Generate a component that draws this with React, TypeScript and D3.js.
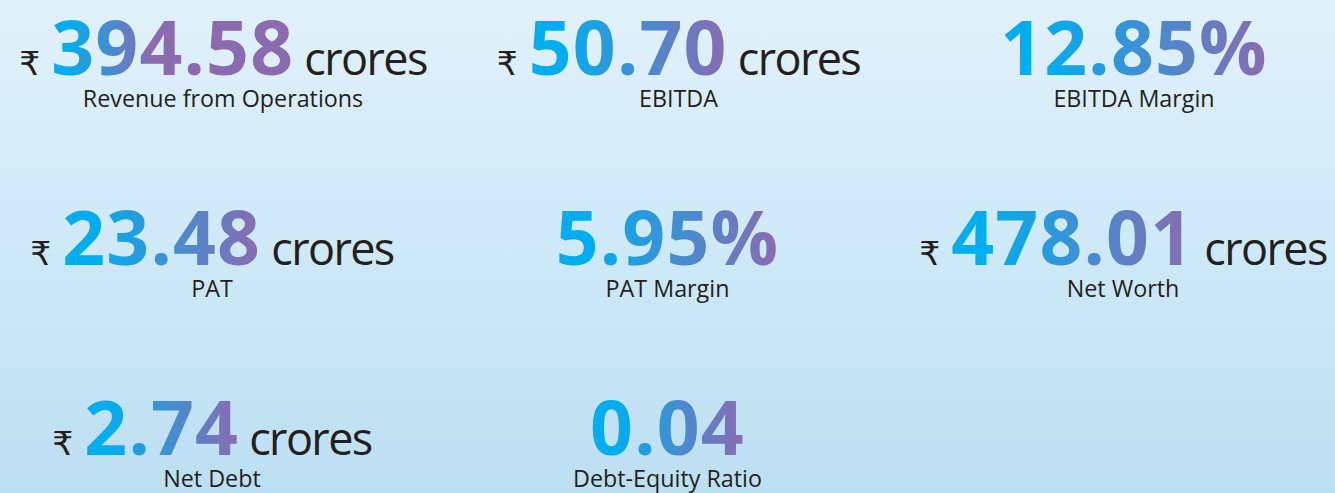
import React, { useEffect, useRef } from 'react';
import * as d3 from 'd3';

const W = 1335;
const H = 493;

// KPI figures, row by row
const values = ['394.58', '50.70', '12.85%', '23.48', '5.95%', '478.01', '2.74', '0.04'];
const labels = [
  'Revenue from Operations',
  'EBITDA',
  'EBITDA Margin',
  'PAT',
  'PAT Margin',
  'Net Worth',
  'Net Debt',
  'Debt-Equity Ratio',
];
const prefixes = ['₹', '₹', '', '₹', '', '₹', '₹', ''];
const units = ['crores', 'crores', '', 'crores', '', 'crores', 'crores', ''];
const rows = [0, 0, 0, 1, 1, 1, 2, 2];
const cols = [0, 1, 2, 0, 1, 2, 0, 1];

// how far across the figure the cyan -> purple blend runs
const gradientReach = [0.42, 1, 1, 1, 1, 1, 1, 1];
// the first row sits a little to the right of the others
const rowShift = [7, -4, -4];

const CYAN = '#00aeef';
const PURPLE = '#8c6ab0';
const INK = '#231f20';

const App = () => {
  const ref = useRef<SVGSVGElement>(null);

  useEffect(() => {
    document.body.style.margin = '0';
    const svg = d3.select(ref.current);
    svg.selectAll('*').remove();

    const defs = svg.append('defs');
    const bg = defs
      .append('linearGradient')
      .attr('id', 'bg')
      .attr('x1', 0)
      .attr('y1', 0)
      .attr('x2', 0)
      .attr('y2', 1);
    bg.append('stop').attr('offset', '0%').attr('stop-color', '#e1f1fb');
    bg.append('stop').attr('offset', '55%').attr('stop-color', '#cce8f7');
    bg.append('stop').attr('offset', '100%').attr('stop-color', '#bcdff2');

    svg.append('rect').attr('width', W).attr('height', H).attr('fill', 'url(#bg)');

    const x = d3.scalePoint<number>().domain([0, 1, 2]).range([216, 1127]);
    const y = d3.scalePoint<number>().domain([0, 1, 2]).range([75, 455]);

    values.forEach((v, i) => {
      const g = svg
        .append('g')
        .attr('transform', `translate(${x(cols[i])! + rowShift[rows[i]]},${y(rows[i])})`);

      const pre = g
        .append('text')
        .text(prefixes[i])
        .attr('font-family', 'DejaVu Sans, Noto Sans, sans-serif')
        .attr('font-size', 33)
        .attr('fill', INK);
      const val = g
        .append('text')
        .text(v)
        .attr('font-family', 'Open Sans, sans-serif')
        .attr('font-weight', 700)
        .attr('font-size', 75)
        .attr('letter-spacing', 1.2);
      const unit = g
        .append('text')
        .text(units[i])
        .attr('font-family', 'Open Sans, sans-serif')
        .attr('font-size', 45)
        .attr('letter-spacing', -1.6)
        .attr('fill', INK);

      const wp = prefixes[i] ? (pre.node() as SVGTextElement).getComputedTextLength() : 0;
      const wv = (val.node() as SVGTextElement).getComputedTextLength();
      const wu = units[i] ? (unit.node() as SVGTextElement).getComputedTextLength() : 0;
      const gap1 = prefixes[i] ? 11 : 0;
      const gap2 = units[i] ? 10 : 0;
      const total = wp + gap1 + wv + gap2 + wu;
      const x0 = -total / 2;

      pre.attr('x', x0);
      val.attr('x', x0 + wp + gap1);
      unit.attr('x', x0 + wp + gap1 + wv + gap2);

      const gid = `kpi${i}`;
      const vx = x0 + wp + gap1;
      const grad = defs
        .append('linearGradient')
        .attr('id', gid)
        .attr('gradientUnits', 'userSpaceOnUse')
        .attr('x1', vx)
        .attr('y1', 0)
        .attr('x2', vx + wv * gradientReach[i])
        .attr('y2', 0);
      grad.append('stop').attr('offset', '0%').attr('stop-color', CYAN);
      grad.append('stop').attr('offset', '15%').attr('stop-color', CYAN);
      grad.append('stop').attr('offset', '100%').attr('stop-color', PURPLE);
      val.attr('fill', `url(#${gid})`);

      g.append('text')
        .text(labels[i])
        .attr('x', 0)
        .attr('y', 32)
        .attr('text-anchor', 'middle')
        .attr('font-family', 'Open Sans, sans-serif')
        .attr('font-size', 23.3)
        .attr('fill', INK);
    });
  }, []);

  return <svg ref={ref} width={W} height={H} style={{ display: 'block' }} />;
};

export default App;
